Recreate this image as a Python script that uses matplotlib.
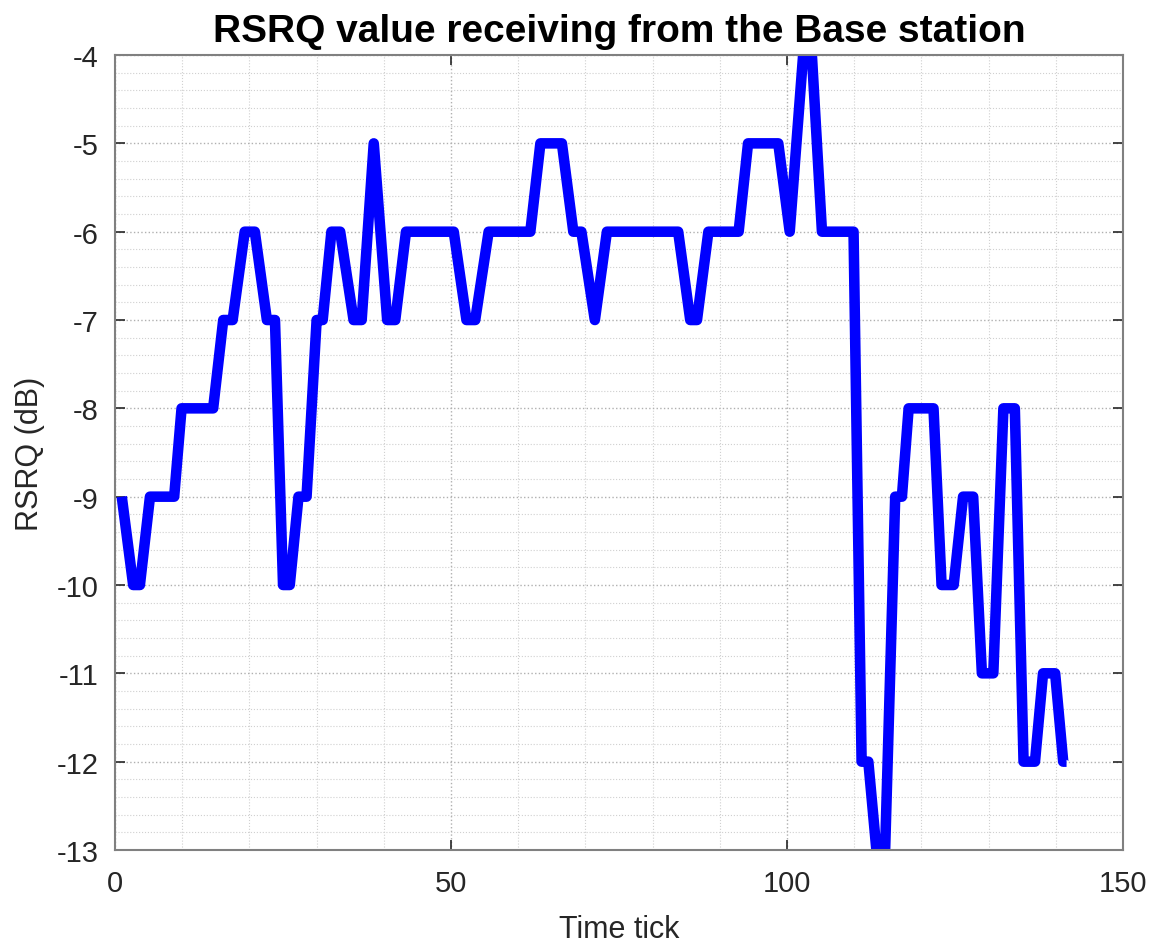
import numpy as np
import matplotlib
matplotlib.use('Agg')
import matplotlib.pyplot as plt
from matplotlib.ticker import MultipleLocator

# RSRQ trace (vertex positions in time ticks)
time_tick = [1, 2.7, 3.7, 5.2, 8.8, 9.9, 14.6, 16.1, 17.5, 19.3,
             20.8, 22.6, 23.8, 25.0, 26.0, 27.3, 28.5, 30.0, 30.9, 32.2,
             33.5, 35.5, 36.7, 38.5, 40.5, 41.7, 43.3, 50.4, 52.3, 53.6,
             55.6, 61.8, 63.3, 66.5, 68.2, 69.4, 71.4, 73.2, 83.8, 85.6,
             86.6, 88.3, 92.8, 94.2, 98.7, 100.4, 102.4, 103.7, 105.2, 109.9,
             111.1, 112.1, 113.3, 114.6, 116.1, 117.1, 118.1, 121.8, 123.0, 124.8,
             126.2, 127.7, 129.0, 130.7, 132.2, 133.9, 135.2, 136.9, 138.1, 139.9,
             141.1, 141.6]
rsrq_db = [-9, -10, -10, -9, -9, -8, -8, -7, -7, -6,
           -6, -7, -7, -10, -10, -9, -9, -7, -7, -6,
           -6, -7, -7, -5, -7, -7, -6, -6, -7, -7,
           -6, -6, -5, -5, -6, -6, -7, -6, -6, -7,
           -7, -6, -6, -5, -5, -6, -4, -4, -6, -6,
           -12, -12, -13, -13, -9, -9, -8, -8, -10, -10,
           -9, -9, -11, -11, -8, -8, -12, -12, -11, -11,
           -12, -12]

plt.rcParams['font.family'] = ['Liberation Sans', 'DejaVu Sans']
plt.rcParams['axes.unicode_minus'] = False

fig = plt.figure(figsize=(11.55, 9.45), dpi=100)
ax = fig.add_axes([0.0996, 0.0995, 0.8727, 0.8412])

ax.plot(time_tick, rsrq_db, color=(0, 0, 1), linewidth=7.6,
        solid_joinstyle='round', solid_capstyle='butt')

ax.set_xlim(0, 150)
ax.set_ylim(-13, -4)
ax.xaxis.set_major_locator(MultipleLocator(50))
ax.xaxis.set_minor_locator(MultipleLocator(10))
ax.yaxis.set_major_locator(MultipleLocator(1))
ax.yaxis.set_minor_locator(MultipleLocator(0.2))

ax.grid(True, which='major', linestyle=':', color='#b0b0b0', linewidth=1.0)
ax.grid(True, which='minor', linestyle=':', color='#d0d0d0', linewidth=0.8)
ax.set_axisbelow(True)

ax.tick_params(which='major', direction='in', length=7, width=1.2,
               colors='#262626', labelsize=21, top=True, right=True)
ax.tick_params(axis='x', which='major', pad=14)
ax.tick_params(axis='y', which='major', pad=12)
ax.tick_params(which='minor', length=0)
for sp in ax.spines.values():
    sp.set_color('#808080')
    sp.set_linewidth(1.5)

ax.set_xlabel('Time tick', fontsize=22, color='#262626', labelpad=12)
ax.set_ylabel('RSRQ (dB)', fontsize=22, color='#262626', labelpad=8)
ax.set_title('RSRQ value receiving from the Base station', fontsize=28,
             fontweight='bold', pad=10)

fig.savefig('out.png', dpi=100)
